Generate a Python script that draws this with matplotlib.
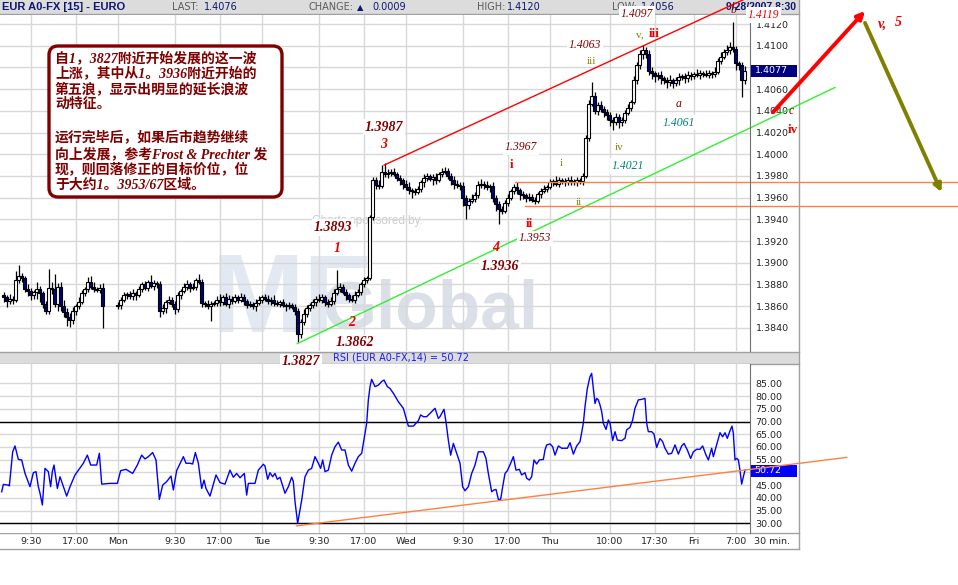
import numpy as np
import matplotlib
matplotlib.use("Agg")
import matplotlib.pyplot as plt
from matplotlib.patches import Rectangle, FancyBboxPatch
from matplotlib.transforms import Affine2D

# ---------------------------------------------------------------- data
# 30-minute EUR/USD bars; prices in pips above 1.3800
# time axis: hours after the first "9:30" label
open_first = 70
close_fri = [68, 65, 67, 66, 84, 88, 86, 76, 74, 70,
             73, 76, 72, 62, 56, 77, 76, 62, 78, 60,
             55, 50, 47, 56, 60, 64, 72, 76, 82, 78,
             76, 75, 77, 60]
upper_wick_fri = [3, 2, 4, 2, 8, 10, 3, 2, 4, 3,
                  2, 6, 3, 2, 3, 17, 5, 14, 3, 4,
                  6, 3, 4, 3, 2, 4, 3, 2, 5, 6,
                  4, 2, 3, 4]
lower_wick_fri = [4, 6, 3, 4, 2, 3, 4, 3, 5, 4,
                  3, 6, 8, 4, 3, 3, 5, 3, 6, 4,
                  5, 8, 6, 3, 4, 3, 2, 3, 3, 2,
                  3, 2, 3, 20]
close_week = [61, 66, 70, 71, 69, 72, 70, 76, 80, 77,
              82, 79, 81, 80, 56, 58, 64, 66, 62, 57,
              70, 74, 78, 80, 77, 78, 84, 82, 63, 62,
              60, 62, 63, 66, 64, 68, 62, 67, 65, 68,
              66, 68, 65, 61, 62, 60, 63, 66, 68, 67,
              65, 66, 63, 62, 64, 61, 60, 61, 59, 56,
              34, 45, 53, 58, 61, 64, 67, 66, 68, 64,
              62, 65, 72, 76, 78, 73, 70, 67, 66, 70,
              73, 80, 84, 86, 142, 176, 172, 171, 184, 182,
              183, 184, 182, 178, 176, 173, 170, 167, 166, 165,
              168, 174, 178, 180, 177, 179, 176, 182, 184, 185,
              180, 176, 173, 172, 171, 160, 153, 157, 159, 162,
              172, 173, 172, 170, 171, 160, 154, 150, 148, 155,
              160, 166, 170, 167, 163, 162, 160, 161, 158, 157,
              163, 166, 168, 170, 174, 175, 173, 176, 175, 174,
              176, 175, 174, 176, 175, 180, 215, 246, 254, 240,
              245, 242, 239, 236, 232, 230, 234, 230, 232, 238,
              243, 248, 268, 282, 292, 296, 292, 277, 275, 272,
              273, 270, 268, 267, 268, 266, 268, 271, 272, 270,
              273, 272, 274, 273, 275, 274, 273, 275, 274, 276,
              286, 290, 294, 296, 299, 297, 284, 282, 268, 277]
upper_wick_week = [3, 2, 3, 2, 3, 4, 2, 3, 2, 3,
                   2, 7, 3, 2, 3, 4, 2, 3, 2, 3,
                   3, 2, 3, 4, 2, 3, 2, 6, 3, 2,
                   4, 3, 2, 3, 5, 2, 4, 3, 2, 3,
                   2, 4, 3, 2, 3, 2, 4, 3, 2, 3,
                   3, 2, 4, 3, 2, 3, 2, 3, 2, 3,
                   2, 3, 4, 3, 2, 3, 2, 4, 3, 2,
                   3, 3, 4, 17, 3, 2, 3, 2, 3, 4,
                   3, 2, 3, 2, 2, 3, 3, 4, 6, 8,
                   3, 2, 3, 2, 3, 2, 3, 4, 2, 3,
                   3, 2, 4, 3, 2, 3, 4, 2, 3, 3,
                   2, 3, 4, 3, 2, 3, 2, 3, 4, 3,
                   3, 4, 2, 3, 2, 3, 2, 3, 2, 3,
                   3, 2, 3, 4, 2, 3, 2, 3, 2, 3,
                   2, 3, 4, 2, 3, 2, 5, 3, 2, 3,
                   3, 4, 2, 3, 2, 3, 3, 4, 13, 3,
                   3, 4, 2, 3, 3, 2, 4, 3, 2, 3,
                   3, 2, 4, 3, 4, 5, 3, 4, 3, 2,
                   3, 4, 2, 3, 5, 2, 3, 4, 2, 3,
                   4, 3, 2, 5, 3, 2, 4, 3, 2, 4,
                   3, 4, 3, 5, 4, 23, 3, 2, 3, 4]
lower_wick_week = [3, 4, 2, 3, 2, 3, 4, 2, 3, 2,
                   3, 2, 4, 3, 6, 3, 4, 2, 3, 4,
                   2, 3, 2, 3, 4, 2, 3, 2, 4, 3,
                   3, 14, 2, 3, 4, 3, 2, 4, 3, 2,
                   3, 2, 4, 3, 2, 3, 4, 2, 3, 2,
                   3, 4, 3, 2, 3, 2, 4, 3, 2, 4,
                   7, 3, 2, 3, 2, 3, 4, 2, 3, 4,
                   3, 2, 3, 2, 3, 2, 4, 3, 2, 3,
                   2, 3, 2, 3, 2, 3, 4, 3, 2, 3,
                   4, 3, 2, 3, 4, 5, 3, 4, 6, 3,
                   2, 3, 4, 3, 2, 5, 3, 2, 3, 2,
                   3, 4, 5, 3, 4, 8, 13, 3, 2, 3,
                   2, 3, 4, 3, 5, 4, 6, 14, 3, 2,
                   3, 2, 3, 4, 5, 3, 4, 3, 2, 3,
                   2, 3, 2, 3, 2, 3, 2, 3, 2, 3,
                   2, 3, 2, 3, 2, 3, 2, 3, 2, 3,
                   4, 3, 5, 4, 6, 8, 3, 6, 4, 3,
                   2, 3, 2, 3, 3, 4, 3, 4, 6, 5,
                   4, 5, 3, 6, 4, 5, 3, 4, 3, 4,
                   3, 4, 3, 2, 4, 3, 2, 3, 4, 3,
                   2, 3, 2, 3, 4, 3, 6, 4, 15, 3]
bar_hours_fri = np.arange(-4.5, 12.01, 0.5)
bar_hours_week = np.arange(14.5, 119.01, 0.5)

# RSI(14) line, read as (hour, value) vertices
rsi_vertices = [
    (-4.84, 42.4), (-4.56, 45.3), (-3.73, 45.0), (-3.56, 44.7), (-3.01, 58.1), (-2.62, 60.4),
    (-2.06, 55.1), (-1.51, 54.9), (-0.95, 49.6), (-0.12, 44.4), (0.44, 49.9), (0.88, 50.3),
    (1.27, 44.4), (1.55, 41.8), (1.94, 37.2), (2.38, 51.6), (2.94, 50.3), (3.32, 44.4),
    (3.60, 50.3), (3.88, 52.9), (4.16, 48.3), (4.44, 43.7), (4.88, 48.3), (5.44, 44.4),
    (5.99, 40.7), (6.55, 44.4), (7.38, 49.0), (8.77, 53.6), (9.44, 56.8), (9.99, 52.9),
    (10.99, 52.9), (11.44, 57.5), (11.83, 45.4), (13.21, 45.7), (14.44, 45.7), (14.99, 50.7),
    (15.88, 51.2), (16.99, 49.6), (17.77, 52.9), (18.49, 56.8), (19.05, 55.3), (19.60, 56.2),
    (20.32, 57.8), (20.88, 54.9), (21.44, 39.4), (21.99, 45.0), (22.66, 46.4), (23.38, 48.6),
    (23.77, 43.1), (24.32, 50.7), (25.16, 54.9), (25.44, 56.2), (25.88, 53.6), (26.55, 53.6),
    (26.99, 53.3), (27.44, 57.8), (27.94, 53.6), (28.49, 43.7), (28.88, 47.0), (29.21, 43.7),
    (29.88, 40.7), (30.88, 49.0), (31.55, 46.0), (32.38, 45.4), (33.21, 50.9), (33.77, 48.1),
    (34.32, 49.6), (34.88, 47.9), (35.60, 49.6), (35.99, 41.1), (36.27, 45.7), (36.82, 45.7),
    (37.38, 45.7), (37.94, 50.9), (38.77, 53.2), (39.05, 52.5), (39.49, 47.3), (39.88, 49.9),
    (40.32, 48.3), (40.71, 49.6), (41.10, 47.3), (41.55, 48.1), (42.38, 41.8), (42.94, 44.4),
    (43.49, 48.1), (43.77, 46.4), (44.05, 38.5), (44.49, 30.0), (44.77, 33.9), (45.16, 39.1),
    (45.71, 48.3), (46.27, 50.9), (46.82, 51.6), (47.38, 56.2), (47.94, 53.6), (48.32, 51.6),
    (48.66, 54.9), (49.05, 50.3), (49.60, 50.9), (50.16, 56.8), (50.71, 60.1), (51.27, 61.9),
    (51.83, 58.8), (52.38, 58.8), (52.94, 52.9), (53.49, 50.5), (54.05, 53.6), (54.60, 56.2),
    (55.16, 57.5), (55.44, 61.4), (55.71, 65.4), (55.99, 69.3), (56.27, 78.5), (56.55, 83.7),
    (56.82, 86.6), (57.38, 83.7), (57.94, 84.3), (58.49, 85.7), (58.88, 86.3), (59.44, 83.7),
    (59.88, 83.0), (60.44, 81.1), (61.27, 77.8), (62.10, 75.2), (62.94, 68.2), (63.77, 68.2),
    (64.60, 70.3), (64.99, 72.6), (65.44, 71.9), (65.99, 71.9), (66.55, 73.2), (67.38, 75.2),
    (67.94, 71.2), (68.21, 71.9), (68.88, 74.8), (69.21, 69.9), (69.60, 62.7), (69.99, 56.8),
    (70.44, 61.4), (71.10, 56.8), (71.55, 53.6), (71.99, 44.4), (72.38, 42.8), (72.94, 44.4),
    (73.49, 49.6), (74.05, 52.9), (74.60, 58.1), (75.44, 58.1), (75.88, 55.5), (76.27, 49.6),
    (76.83, 42.4), (77.21, 43.1), (77.55, 43.3), (77.94, 39.4), (78.32, 39.4), (78.66, 44.4),
    (79.05, 49.6), (79.44, 50.7), (79.99, 53.6), (80.44, 56.2), (80.88, 50.9), (81.44, 51.2),
    (81.82, 49.0), (82.38, 49.9), (82.66, 47.7), (83.10, 47.0), (83.49, 48.3), (83.88, 54.9),
    (84.32, 53.3), (84.77, 54.9), (85.44, 55.1), (85.71, 58.8), (85.99, 60.8), (86.55, 61.2),
    (86.99, 60.1), (87.38, 56.8), (87.94, 60.4), (88.49, 59.5), (89.44, 59.5), (89.88, 61.7),
    (90.44, 57.2), (90.99, 60.4), (91.55, 62.1), (92.10, 69.3), (92.38, 75.8), (92.77, 83.0),
    (93.21, 87.6), (93.49, 88.9), (93.77, 83.0), (94.05, 77.1), (94.32, 79.1), (94.60, 78.5),
    (94.88, 76.5), (95.16, 73.9), (95.44, 69.3), (95.88, 66.9), (96.27, 70.6), (96.55, 69.3),
    (96.99, 62.5), (97.38, 66.0), (97.77, 62.7), (98.49, 62.5), (99.05, 63.4), (99.32, 66.7),
    (99.88, 67.7), (100.32, 70.6), (100.71, 75.2), (101.27, 78.5), (101.82, 78.7), (102.38, 79.1),
    (102.66, 69.3), (102.94, 66.0), (103.49, 66.0), (103.88, 65.1), (104.32, 59.8), (104.88, 63.3),
    (105.32, 62.1), (105.71, 59.5), (106.27, 57.2), (106.82, 57.5), (107.38, 60.8), (107.94, 57.2),
    (108.49, 60.4), (108.88, 61.4), (109.44, 58.8), (109.99, 55.5), (110.44, 58.1), (110.99, 59.1),
    (111.55, 59.1), (111.99, 60.4), (112.55, 56.8), (112.94, 54.9), (113.49, 59.5), (113.77, 56.2),
    (114.32, 60.8), (114.88, 65.6), (115.32, 64.0), (115.71, 65.6), (116.10, 63.4), (116.55, 66.4),
    (116.88, 68.2), (117.10, 65.4), (117.38, 54.9), (117.66, 55.5), (117.94, 54.9), (118.21, 50.9),
    (118.49, 45.4), (118.77, 48.3), (119.05, 50.9)]
rsi_last = 50.72
last_price = 1.4077

tick_hours = [0, 7.5, 14.5, 24, 31.5, 38.5, 48, 55.5, 62.5, 72, 79.5, 86.5, 96.5, 104, 110.5, 117.5]
tick_labels = ["9:30", "17:00", "Mon", "9:30", "17:00", "Tue", "9:30", "17:00", "Wed",
               "9:30", "17:00", "Thu", "10:00", "17:30", "Fri", "7:00"]
price_ticks = [1.3840, 1.3860, 1.3880, 1.3900, 1.3920, 1.3940, 1.3960, 1.3980,
               1.4000, 1.4020, 1.4040, 1.4060, 1.4080, 1.4100, 1.4120]
rsi_ticks = [30, 35, 40, 45, 50, 55, 60, 65, 70, 75, 80, 85]

# drawn analysis: (hour, price) end points
upper_channel = [(58.9, 1.3990), (118.7, 1.41422)]
lower_channel = [(44.43, 1.38255), (134.05, 1.40615)]
target_upper = [(80.7, 1.3974), (154.5, 1.3974)]
target_lower = [(82.4, 1.39525), (154.5, 1.39525)]
rsi_trend = [(44.3, 29.0), (136.0, 55.9)]
arrow_up = [(123.7, 1.40387), (139.05, 1.4132)]
arrow_down = [(139.05, 1.4121), (151.8, 1.3965)]

# wave labels: (text, hour, price, kind)
wave_labels = [
    ("1.3827", 45.05, 1.38086, "pb"), ("1.3862", 54.05, 1.38261, "pb"),
    ("2", 53.5, 1.38449, "wn"), ("1.3893", 50.4, 1.39324, "pb"), ("1", 51.0, 1.39130, "wn"),
    ("3", 58.8, 1.40091, "wn"), ("1.3987", 58.9, 1.40248, "pb"),
    ("1.3967", 81.7, 1.40063, "pi"), ("i", 80.2, 1.39897, "rr"), ("ii", 83.1, 1.39361, "rr"),
    ("1.3953", 84.05, 1.39225, "pi"), ("4", 77.55, 1.39144, "wn"), ("1.3936", 78.2, 1.38964, "pb"),
    ("i", 88.5, 1.39913, "ol"), ("ii", 91.4, 1.39558, "ol"), ("iii", 93.4, 1.40852, "ol"),
    ("iv", 98.1, 1.40066, "ol"), ("v,", 101.55, 1.41098, "ol"), ("iii", 103.9, 1.41105, "rr"),
    ("1.4063", 92.4, 1.41006, "pi"), ("1.4097", 101.0, 1.41292, "pi"),
    ("1.4021", 99.5, 1.39891, "tl"), ("a", 108.05, 1.40461, "lt"), ("1.4061", 108.05, 1.40292, "tl"),
    ("b", 117.1, 1.41329, "lt"), ("1.4119", 122.1, 1.41283, "ri"),
    ("c", 126.7, 1.40395, "lt"), ("iv", 127.05, 1.40220, "rr"),
    ("v,", 141.9, 1.4120, "wn"), ("5", 144.55, 1.41218, "wn")]

note_lines = ["自1，3827附近开始发展的这一波",
              "上涨，其中从1。3936附近开始的",
              "第五浪，显示出明显的延长浪波",
              "动特征。",
              "运行完毕后，如果后市趋势继续",
              "向上发展，参考Frost & Prechter 发",
              "现，则回落修正的目标价位，位",
              "于大约1。3953/67区域。"]

# ---------------------------------------------------------------- figure
W, H = 958, 585
fig = plt.figure(figsize=(W / 100, H / 100), dpi=100)
tpx = Affine2D().scale(1 / W, -1 / H).translate(0, 1) + fig.transFigure


def frac(x0, y0, x1, y1):
    return [x0 / W, 1 - y1 / H, (x1 - x0) / W, (y1 - y0) / H]


NAVY = "#0c1670"
GRID = "#d8d8d8"
BAR = "#dcdcdc"
EDGE = "#a0a0a0"
MAROON = "#800000"

# background / chrome
bg = fig.add_axes([0, 0, 1, 1], zorder=-1)
bg.set_xlim(0, W)
bg.set_ylim(H, 0)
bg.axis("off")
bg.add_patch(Rectangle((0, 0), 799, 14, fc=BAR, ec="none"))
bg.add_patch(Rectangle((0, 352), 799, 12, fc=BAR, ec="none"))
for yy in (14, 352, 364, 533, 549):
    bg.plot([0, 799], [yy, yy], color=EDGE, lw=1)
bg.plot([799, 799], [0, 549], color=EDGE, lw=1)

hdr = dict(va="center", fontsize=7, family="DejaVu Sans")
bg.text(2, 7.5, "EUR A0-FX [15] - EURO", color=NAVY, fontweight="bold",
        va="center", fontsize=8, family="Liberation Sans")
bg.text(172, 7.5, "LAST:", color="#5a5a5a", **hdr)
bg.text(204, 7.5, "1.4076", color=NAVY, **hdr)
bg.text(309, 7.5, "CHANGE:", color="#5a5a5a", **hdr)
bg.text(357, 7.5, "▲", color=NAVY, va="center", fontsize=6, family="DejaVu Sans")
bg.text(372, 7.5, "0.0009", color=NAVY, **hdr)
bg.text(477, 7.5, "HIGH:", color="#5a5a5a", **hdr)
bg.text(507, 7.5, "1.4120", color=NAVY, **hdr)
bg.text(612, 7.5, "LOW:", color="#5a5a5a", **hdr)
bg.text(641, 7.5, "1.4056", color=NAVY, **hdr)
bg.text(796, 7.5, "9/28/2007 8:30", color=NAVY, fontweight="bold", ha="right",
        va="center", fontsize=7.5, family="Liberation Sans")
bg.text(333, 358, "RSI (EUR A0-FX,14) = 50.72", color="#1a1aff", va="center",
        fontsize=7, family="DejaVu Sans")
bg.text(754, 541, "30 min.", color="#222222", va="center", fontsize=6.8, family="DejaVu Sans")

# ---------------------------------------------------------------- RSI panel
rax = fig.add_axes(frac(0, 364, 750, 533))
rax.set_xlim(-5.12, 119.88)
rax.set_ylim(26.2, 92.6)
rax.set_axisbelow(True)
rax.set_xticks(tick_hours)
rax.set_xticklabels(tick_labels)
rax.set_yticks(rsi_ticks)
# the 50.00 label sits under the last-value box
rax.set_yticklabels(["" if v == 50 else f"{v:.2f}" for v in rsi_ticks])
rax.grid(True, color=GRID, lw=1)
rax.tick_params(axis="x", length=0, pad=3, labelsize=6.8, labelcolor="#222222")
rax.tick_params(axis="y", length=0, pad=4, labelsize=6.8, labelcolor="#222222",
                left=False, labelleft=False, right=True, labelright=True)
for s in ("top", "bottom", "left"):
    rax.spines[s].set_visible(False)
rax.spines["right"].set_color("#707070")
rh, rv = zip(*rsi_vertices)
rax.plot(rh, rv, color="#0000ff", lw=1.0, zorder=3)
rax.axhline(70, color="black", lw=1, zorder=2)
rax.axhline(30, color="black", lw=1, zorder=2)
ry = rax.get_yaxis_transform()
rax.add_patch(Rectangle((1.001, rsi_last - 2.35), 0.062, 4.7, transform=ry, fc="#0000ff",
                        ec="none", clip_on=False, zorder=2.6))
rax.text(1.006, rsi_last, f"{rsi_last:.2f}", transform=ry, color="white", va="center",
         ha="left", fontsize=6.8, clip_on=False, zorder=2.7)
(tx0, ty0), (tx1, ty1) = rsi_trend
rax.plot([tx0, tx1], [ty0, ty1], color="#ff8040", lw=1, clip_on=False, zorder=4)

# ---------------------------------------------------------------- price panel
ax = fig.add_axes(frac(0, 15, 750, 351))
ax.set_xlim(-5.12, 119.88)
ax.set_ylim(1.38187, 1.41283)
ax.set_axisbelow(True)
ax.set_xticks(tick_hours)
ax.set_yticks(price_ticks)
# the 1.4080 label sits under the last-price box
ax.set_yticklabels(["" if abs(v - 1.4080) < 1e-6 else f"{v:.4f}" for v in price_ticks])
ax.grid(True, color=GRID, lw=1)
ax.tick_params(axis="x", length=0, labelbottom=False)
ax.tick_params(axis="y", length=0, pad=4, labelsize=6.8, labelcolor="#222222",
               left=False, labelleft=False, right=True, labelright=True)
for s in ("top", "bottom", "left"):
    ax.spines[s].set_visible(False)
ax.spines["right"].set_color("#707070")


def px2data(x, y):
    return (x - 30.7) / 6.0, 1.4120 - (y - 24) / 10821.0


# watermark
wx, wy = px2data(212, 331)
ax.text(wx, wy, "MF", color="#e2e9f3", fontsize=80, fontweight="bold",
        family="Liberation Sans", va="baseline", zorder=0.3)
wx, wy = px2data(322, 328)
ax.text(wx, wy, "Global", color="#dbe0e8", fontsize=50, fontweight="bold",
        family="Liberation Sans", va="baseline", zorder=0.3)
wx, wy = px2data(312, 220)
ax.text(wx, wy, "Charts sponsored by.", color="#cccccc", fontsize=8.5,
        family="Liberation Sans", va="center", zorder=0.3)

# candles
t = np.r_[bar_hours_fri, bar_hours_week]
c = 1.38 + np.array(close_fri + close_week) / 1e4
o = np.r_[1.38 + open_first / 1e4, c[:-1]]
hi = np.maximum(o, c) + np.array(upper_wick_fri + upper_wick_week) / 1e4
lo = np.minimum(o, c) - np.array(lower_wick_fri + lower_wick_week) / 1e4
up = c >= o
ax.vlines(t, lo, hi, color="black", lw=0.9, zorder=2)
ax.bar(t[up], (c - o)[up], bottom=o[up], width=0.5, facecolor="white",
       edgecolor="black", lw=0.8, zorder=2.2)
ax.bar(t[~up], (o - c)[~up], bottom=c[~up], width=0.5, facecolor="#000080",
       edgecolor="black", lw=0.8, zorder=2.2)

# analysis lines
for seg, col in ((upper_channel, "#ff0000"), (lower_channel, "#33ee33"),
                 (target_upper, "#ff8040"), (target_lower, "#ff8040")):
    (x0, y0), (x1, y1) = seg
    ax.plot([x0, x1], [y0, y1], color=col, lw=1, clip_on=False, zorder=2.5)
for seg, col in ((arrow_up, "#ff0000"), (arrow_down, "#808000")):
    (x0, y0), (x1, y1) = seg
    ax.annotate("", xy=(x1, y1), xytext=(x0, y0), annotation_clip=False,
                arrowprops=dict(arrowstyle="-|>", color=col, lw=2.8, mutation_scale=11,
                                shrinkA=0, shrinkB=0), zorder=4)

# last price box
py = ax.get_yaxis_transform()
ax.add_patch(Rectangle((1.001, last_price - 0.00054), 0.062, 0.00108, transform=py,
                       fc="#000080", ec="none", clip_on=False, zorder=2.6))
ax.text(1.006, last_price, f"{last_price:.4f}", transform=py, color="white", va="center",
        ha="left", fontsize=6.8, clip_on=False, zorder=2.7)

# wave labels
styles = {
    "pb": dict(color=MAROON, fontsize=10, fontweight="bold", style="italic"),
    "pi": dict(color=MAROON, fontsize=8.5, style="italic"),
    "wn": dict(color="#ee0000", fontsize=10, fontweight="bold", style="italic"),
    "rr": dict(color="#ee0000", fontsize=9.5, fontweight="bold"),
    "ol": dict(color="#808000", fontsize=8),
    "tl": dict(color="#008080", fontsize=8.5, style="italic"),
    "lt": dict(color=MAROON, fontsize=8.5, style="italic"),
    "ri": dict(color="#ee0000", fontsize=8.5, style="italic"),
}
for txt, hx, pv, kind in wave_labels:
    ax.text(hx, pv, txt, family="Liberation Serif", ha="center", va="center",
            clip_on=False, zorder=5,
            bbox=dict(fc="white", ec="none", pad=1.2) if kind in ("pb", "pi", "ri", "tl") else None,
            **styles[kind])

# annotation note box
fig.add_artist(FancyBboxPatch((49, 46), 233, 151, boxstyle="round,pad=0,rounding_size=9",
                              transform=tpx, fc="white", ec=MAROON, lw=2.4, zorder=6))
for line, yy in zip(note_lines, (58, 73.5, 89, 104.5, 138.5, 154, 169.5, 185)):
    fig.text(55, yy, line, transform=tpx, color=MAROON, fontsize=10, fontweight="bold",
             style="italic", family=["Liberation Serif", "Noto Sans CJK SC"],
             va="center", ha="left", zorder=7)

fig.savefig("out.png", dpi=100, facecolor="white")
